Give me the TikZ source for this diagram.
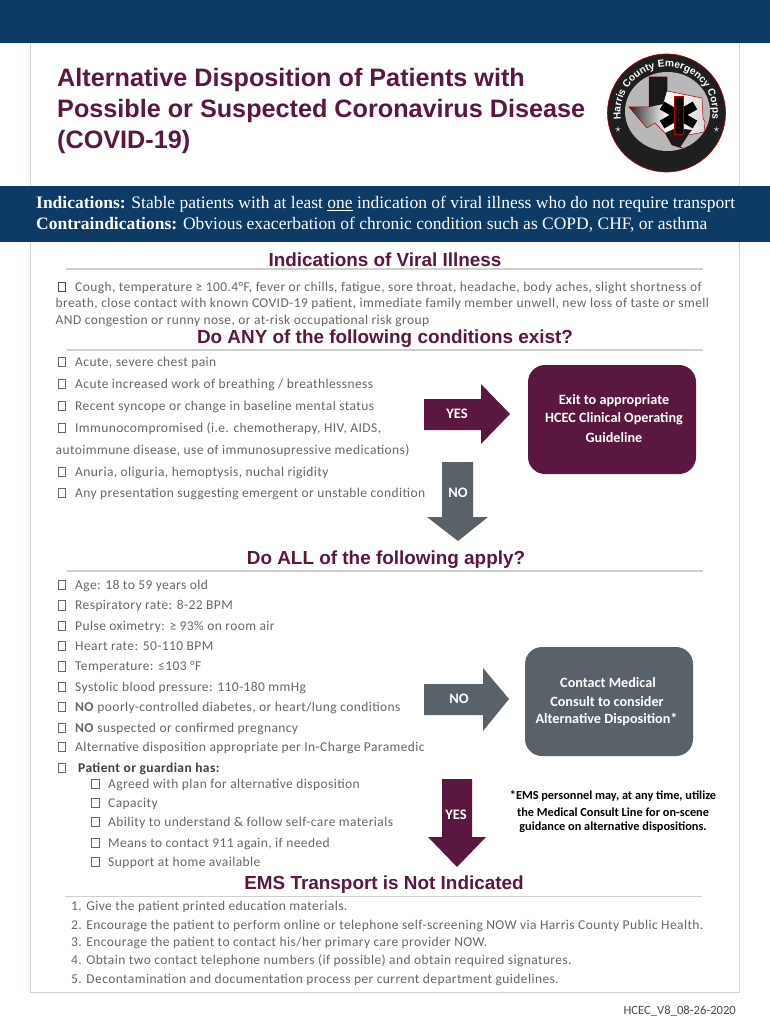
\documentclass[tikz,border=0pt]{standalone}
\usepackage{fontspec}
\setmainfont{Liberation Sans}
\newfontfamily\bodyf[LetterSpace=3.0]{Carlito}
\newfontfamily\boxf{Carlito}
\newfontfamily\bandf{Liberation Serif}
\usetikzlibrary{decorations.text}
\definecolor{navy}{HTML}{0E3A66}
\definecolor{plum}{HTML}{5A1840}
\definecolor{slate}{HTML}{5A6269}
\definecolor{bodyc}{HTML}{666666}
\definecolor{framec}{HTML}{CDD3DA}
\definecolor{rulec}{HTML}{CFCFCF}
\tikzset{
 band/.style={fill=navy},
 titletxt/.style={anchor=west,inner sep=0,text=plum,font=\fontsize{25.2}{31}\selectfont\bfseries,align=left},
 headtxt/.style={inner sep=0,text=plum,font=\fontsize{18.9}{22}\selectfont\bfseries},
 bandtxt/.style={anchor=west,inner sep=0,text=white,font=\fontsize{17.5}{21}\selectfont\bandf},
 txt/.style={anchor=west,inner sep=0,text=bodyc,font=\fontsize{13.5}{15}\selectfont\bodyf},
 cbox/.style={draw=#1,line width=1pt,minimum width=7.5,minimum height=9.5,inner sep=0},
 cbox/.default=bodyc,
 boxnode/.style={rounded corners=17,minimum width=168,minimum height=109,inner sep=0},
 boxtxt/.style={inner sep=0,text=white,font=\fontsize{14.2}{15}\selectfont\bfseries\boxf},
 arrowtxt/.style={inner sep=0,text=white,font=\fontsize{14.5}{16}\selectfont\bfseries\boxf},
 notetxt/.style={inner sep=0,text=black,font=\fontsize{12.3}{15}\selectfont\bfseries\boxf},
 hrule/.style={draw=rulec,line width=1.2pt},
 frameline/.style={draw=framec,line width=0.8pt},
}
\begin{document}
\begin{tikzpicture}[x=1pt,y=-1pt]
\useasboundingbox (0,0) rectangle (770,1024);
\fill[white] (0,0) rectangle (770,1024);
% frame
\draw[frameline] (30,43) -- (30,992) -- (739,992) -- (739,43);
% bands
\fill[band] (0,0) rectangle (770,43);
\fill[band] (0,186) rectangle (770,242);
% title
\node[titletxt] (t1) at (57,79.5) {Alternative Disposition of Patients with};
\node[titletxt] (t2) at (57,110.5) {Possible or Suspected Coronavirus Disease};
\node[titletxt] (t3) at (57,142) {(COVID-19)};
% logo
\fill[black!88] (666.5,113) circle (59);
\draw[red!70!black,line width=0.6pt] (666.5,113) circle (59);
\fill[black!28] (667.5,111.5) ellipse (42.5 and 39.5);
\draw[draw=red!70!black,line width=0.5pt,left color=black!85,right color=black!15,middle color=white]
 (649,77) -- (667,77) -- (667,91) -- (687,95) -- (702,98) -- (703,118) -- (705,122) -- (704,132)
 -- (688,135) -- (680,147) -- (685,149) -- (672,145) -- (665,133) -- (655,123) -- (647,128)
 -- (640,120) -- (629,107) -- (649,107) -- cycle;
\fill[black!90] (649,77) -- (667,77) -- (667,91) -- (663,104) -- (649,107) -- cycle;
\fill[black!90] (672,145) -- (665,133) -- (676,128) -- (692,130) -- (688,135) -- (680,147) -- (685,149) -- cycle;
\foreach \a in {60,120}{
 \fill[black,rotate around={\a:(678.5,115)}] (674,96) rectangle (683,134);
}
\fill[black] (674,96) rectangle (683,134);
\draw[red!70!black,line width=0.5pt] (674,96) rectangle (683,134);
\draw[red!60!black,line width=0.5pt] (678.5,101) .. controls (676,106) and (681,109) .. (678.5,113) .. controls (676,117) and (681,122) .. (678.5,129);
\path[postaction={decorate,decoration={text along path,text align=center,text={|\fontsize{10.2}{11}\selectfont\bfseries\color{white}|Harris County Emergency Corps}}}]
 (666.5,113) ++(172:46) arc[start angle=172,end angle=368,radius=46];
\node[inner sep=0,text=white,font=\fontsize{13}{13}\selectfont] (s1) at (618,130) {$\star$};
\node[inner sep=0,text=white,font=\fontsize{13}{13}\selectfont] (s2) at (716.5,130) {$\star$};
% band text
\node[bandtxt] (b1) at (36,204) {\textbf{Indications:} Stable patients with at least \underline{one} indication of viral illness who do not require transport};
\node[bandtxt] (b2) at (36,225) {\textbf{Contraindications:} Obvious exacerbation of chronic condition such as COPD, CHF, or asthma};
% indications
\node[headtxt] (h1) at (385,259.5) {Indications of Viral Illness};
\draw[hrule] (66,269) -- (703,269);
\node[cbox=black!70] (c0) at (62,287) {};
\node[txt] (p1) at (75,287.5) {Cough, temperature ≥ 100.4°F, fever or chills, fatigue, sore throat, headache, body aches, slight shortness of};
\node[txt] (p2) at (55.5,304) {breath, close contact with known COVID-19 patient, immediate family member unwell, new loss of taste or smell};
\node[txt] (p3) at (55.5,320.5) {AND congestion or runny nose, or at-risk occupational risk group};
% any
\node[headtxt] (h2) at (385,338.5) {Do ANY of the following conditions exist?};
\draw[hrule] (67,350) -- (703,350);
\node[cbox] (a1) at (62,362) {}; \node[txt] (at1) at (75,362.5) {Acute, severe chest pain};
\node[cbox] (a2) at (62,384) {}; \node[txt] (at2) at (75,384.5) {Acute increased work of breathing / breathlessness};
\node[cbox] (a3) at (62,406) {}; \node[txt] (at3) at (75,406.5) {Recent syncope or change in baseline mental status};
\node[cbox] (a4) at (62,428) {}; \node[txt] (at4) at (75,428.5) {Immunocompromised (i.e. chemotherapy, HIV, AIDS,};
\node[txt] (at4b) at (55.5,450.5) {autoimmune disease, use of immunosupressive medications)};
\node[cbox] (a5) at (62,472) {}; \node[txt] (at5) at (75,472.5) {Anuria, oliguria, hemoptysis, nuchal rigidity};
\node[cbox] (a6) at (62,493) {}; \node[txt] (at6) at (75,493.5) {Any presentation suggesting emergent or unstable condition};
% arrows and boxes 1
\fill[plum] (424,399) -- (481,399) -- (481,384) -- (510,414) -- (481,444) -- (481,430) -- (424,430) -- cycle;
\node[arrowtxt] (yes1) at (457,414) {YES};
\node[boxnode,fill=plum] (exit) at (612,419.5) {};
\node[boxtxt] (e1) at (614,400.5) {Exit to appropriate};
\node[boxtxt] (e2) at (614,419) {HCEC Clinical Operating};
\node[boxtxt] (e3) at (614,437.5) {Guideline};
\fill[slate] (442,462) -- (473,462) -- (473,517) -- (488,517) -- (458,541) -- (427,517) -- (442,517) -- cycle;
\node[arrowtxt] (no1) at (458,493) {NO};
% all
\node[headtxt] (h3) at (386,559.5) {Do ALL of the following apply?};
\draw[hrule] (67,571) -- (703,571);
\node[cbox] (l1) at (62,585) {}; \node[txt] (lt1) at (75,585.5) {Age: 18 to 59 years old};
\node[cbox] (l2) at (62,605.5) {}; \node[txt] (lt2) at (75,606) {Respiratory rate: 8-22 BPM};
\node[cbox] (l3) at (62,626) {}; \node[txt] (lt3) at (75,626.5) {Pulse oximetry: ≥ 93\% on room air};
\node[cbox] (l4) at (62,646) {}; \node[txt] (lt4) at (75,646.5) {Heart rate: 50-110 BPM};
\node[cbox] (l5) at (62,666.5) {}; \node[txt] (lt5) at (75,667) {Temperature: ≤103 °F};
\node[cbox] (l6) at (62,687) {}; \node[txt] (lt6) at (75,687.5) {Systolic blood pressure: 110-180 mmHg};
\node[cbox] (l7) at (62,707) {}; \node[txt] (lt7) at (75,707.5) {\textbf{NO} poorly-controlled diabetes, or heart/lung conditions};
\node[cbox] (l8) at (62,728) {}; \node[txt] (lt8) at (75,728.5) {\textbf{NO} suspected or confirmed pregnancy};
\node[cbox] (l9) at (62,747) {}; \node[txt] (lt9) at (75,747.5) {Alternative disposition appropriate per In-Charge Paramedic};
\node[cbox] (l10) at (62,768) {}; \node[txt,text=black!75] (lt10) at (78,768.5) {\textbf{Patient or guardian has:}};
\node[cbox] (s1b) at (95.5,784) {}; \node[txt] (st1) at (108,784.5) {Agreed with plan for alternative disposition};
\node[cbox] (s2b) at (95.5,803) {}; \node[txt] (st2) at (108,803.5) {Capacity};
\node[cbox] (s3b) at (95.5,822) {}; \node[txt] (st3) at (108,822.5) {Ability to understand \& follow self-care materials};
\node[cbox] (s4b) at (95.5,843) {}; \node[txt] (st4) at (108,843.5) {Means to contact 911 again, if needed};
\node[cbox] (s5b) at (95.5,862) {}; \node[txt] (st5) at (108,862.5) {Support at home available};
% arrows and boxes 2
\fill[slate] (424,684) -- (483,684) -- (483,668) -- (509,699) -- (483,731) -- (483,715) -- (424,715) -- cycle;
\node[arrowtxt] (no2) at (459,699) {NO};
\node[boxnode,fill=slate] (consult) at (609,701.5) {};
\node[boxtxt] (k1) at (608,683) {Contact Medical};
\node[boxtxt] (k2) at (607,701.5) {Consult to consider};
\node[boxtxt] (k3) at (606.5,720) {Alternative Disposition*};
\fill[plum] (442,779) -- (472,779) -- (472,837) -- (486,837) -- (457,867) -- (428,837) -- (442,837) -- cycle;
\node[arrowtxt] (yes2) at (456,815) {YES};
\node[notetxt] (n1) at (613,796.5) {*EMS personnel may, at any time, utilize};
\node[notetxt] (n2) at (613,812) {the Medical Consult Line for on-scene};
\node[notetxt] (n3) at (613,827.5) {guidance on alternative dispositions.};
% transport
\node[headtxt] (h4) at (384,884.5) {EMS Transport is Not Indicated};
\draw[hrule,line width=0.8pt] (65,896) -- (702,896);
\node[txt] (q1) at (71,907) {1. Give the patient printed education materials.};
\node[txt] (q2) at (71,925.5) {2. Encourage the patient to perform online or telephone self-screening NOW via Harris County Public Health.};
\node[txt] (q3) at (71,942.5) {3. Encourage the patient to contact his/her primary care provider NOW.};
\node[txt] (q4) at (71,960.5) {4. Obtain two contact telephone numbers (if possible) and obtain required signatures.};
\node[txt] (q5) at (71,979.5) {5. Decontamination and documentation process per current department guidelines.};
\node[inner sep=0,anchor=east,text=black!70,font=\fontsize{12.6}{13}\selectfont\boxf] (foot) at (736,1011) {HCEC\_V8\_08-26-2020};
\end{tikzpicture}
\end{document}
